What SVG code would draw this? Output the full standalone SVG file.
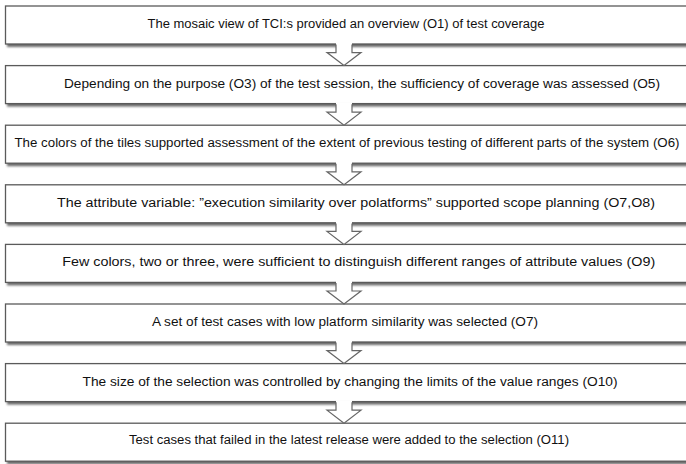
<svg xmlns="http://www.w3.org/2000/svg" width="686" height="464" viewBox="0 0 686 464">
<style>
.box{fill:#fff;stroke:#5a5a5a;stroke-width:1.3}
.sh{fill:#6a6a6a;filter:url(#blur)}
.t{font-family:"Liberation Sans Narrow","Liberation Sans",Arial,sans-serif;font-size:12.5px;fill:#111;text-anchor:middle}
.af{fill:#fff;stroke:none}
.as{fill:none;stroke:#666;stroke-width:1.2;stroke-linejoin:miter}
</style>
<defs>
<filter id="blur" x="-5%" y="-20%" width="110%" height="150%"><feGaussianBlur stdDeviation="0.9"/></filter>
<g id="arrow">
<polygon class="af" points="-8,-2 -8,8 -17,8 0,21 17,8 8,8 8,-2"/>
<polyline class="as" points="-8,0 -8,8 -17,8 0,21 17,8 8,8 8,0"/>
</g>
</defs>
<rect width="686" height="464" fill="#fff"/>
<g id="node1"><rect class="sh" x="7" y="9" width="690" height="38"/><rect class="box" x="5.5" y="6" width="690" height="38"/><text class="t" x="346" y="28" textLength="397" lengthAdjust="spacingAndGlyphs">The mosaic view of TCI:s provided an overview (O1) of test coverage</text></g>
<g id="node2"><rect class="sh" x="7" y="68.6" width="690" height="38"/><rect class="box" x="5.5" y="65.6" width="690" height="38"/><text class="t" x="362" y="87.6" textLength="596" lengthAdjust="spacingAndGlyphs">Depending on the purpose (O3) of the test session, the sufficiency of coverage was assessed (O5)</text></g>
<g id="node3"><rect class="sh" x="7" y="128.2" width="690" height="38"/><rect class="box" x="5.5" y="125.2" width="690" height="38"/><text class="t" x="347" y="147.2" textLength="665" lengthAdjust="spacingAndGlyphs">The colors of the tiles supported assessment of the extent of previous testing of different parts of  the system (O6)</text></g>
<g id="node4"><rect class="sh" x="7" y="187.8" width="690" height="38"/><rect class="box" x="5.5" y="184.8" width="690" height="38"/><text class="t" x="356" y="206.8" textLength="598" lengthAdjust="spacingAndGlyphs">The attribute variable: ”execution similarity over polatforms” supported scope planning (O7,O8)</text></g>
<g id="node5"><rect class="sh" x="7" y="247.4" width="690" height="38"/><rect class="box" x="5.5" y="244.4" width="690" height="38"/><text class="t" x="358.7" y="266.4" textLength="593" lengthAdjust="spacingAndGlyphs">Few colors, two or three, were sufficient to distinguish different ranges of attribute values (O9)</text></g>
<g id="node6"><rect class="sh" x="7" y="307" width="690" height="38"/><rect class="box" x="5.5" y="304" width="690" height="38"/><text class="t" x="345" y="326" textLength="386" lengthAdjust="spacingAndGlyphs">A set of test cases with low platform similarity was selected (O7)</text></g>
<g id="node7"><rect class="sh" x="7" y="366.6" width="690" height="38"/><rect class="box" x="5.5" y="363.6" width="690" height="38"/><text class="t" x="350" y="385.6" textLength="535" lengthAdjust="spacingAndGlyphs">The size of the selection was controlled by changing the limits of the value  ranges (O10)</text></g>
<g id="node8"><rect class="sh" x="7" y="426.2" width="690" height="38"/><rect class="box" x="5.5" y="423.2" width="690" height="38"/><text class="t" x="349" y="444" textLength="440" lengthAdjust="spacingAndGlyphs">Test cases that failed in the latest release were added to the selection (O11)</text></g>
<g id="connectors">
<use href="#arrow" x="344" y="44.6"/>
<use href="#arrow" x="344" y="104.2"/>
<use href="#arrow" x="344" y="163.8"/>
<use href="#arrow" x="344" y="223.4"/>
<use href="#arrow" x="344" y="283"/>
<use href="#arrow" x="344" y="342.6"/>
<use href="#arrow" x="344" y="402.2"/>
</g>
</svg>
